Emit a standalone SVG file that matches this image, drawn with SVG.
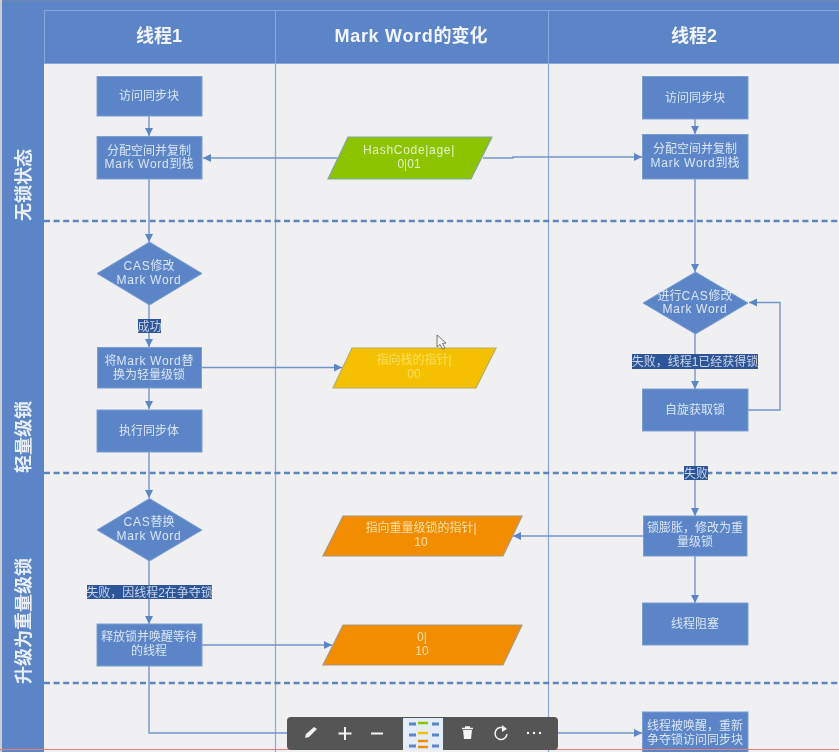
<svg xmlns="http://www.w3.org/2000/svg" width="839" height="752" viewBox="0 0 839 752">
<style>
text{font-family:"Liberation Sans","Noto Sans CJK SC",sans-serif;text-anchor:middle}
.h{font-size:18px;font-weight:700;fill:#f2f5fb}
.v{font-size:18px;font-weight:700;fill:#e8eef8}
.n{font-size:12px;fill:#dbe5f4}
.m{letter-spacing:.7px}
.b{fill:#5b85c8;stroke:#7a9dd3;stroke-width:1}
.l{font-size:12px;fill:#c9d5ea}
.lb{fill:#2f5597}
.c{fill:none;stroke:#7395ca;stroke-width:1.4}
.d{fill:none;stroke:#5b85c0;stroke-width:2.5;stroke-dasharray:6 3.6}
.s{fill:none;stroke:#8fabd6;stroke-width:1.3}
.t{stroke:#f4f4f4;stroke-width:2;fill:none}
</style>
<defs>
<marker id="a" markerUnits="userSpaceOnUse" markerWidth="9" markerHeight="9" refX="8" refY="4" orient="auto"><path d="M0 0L8 4L0 8Z" fill="#5b85c8"/></marker>
<filter id="soft" x="0" y="0" width="100%" height="100%"><feGaussianBlur stdDeviation="0.45"/></filter>
</defs>
<g filter="url(#soft)">
<rect width="839" height="752" fill="#f0f0f2"/>
<rect x="0" y="0" width="2" height="752" fill="#c9ccd2"/>
<g id="header">
<rect x="2" y="0" width="837" height="63" fill="#5b85c8"/>
<rect x="2" y="0" width="837" height="1.5" fill="#6b87b5"/>
<path d="M2 10.500H839M44.500 10.500V63M275.500 10.500V63M548.500 10.500V63M44 63.500H839" stroke="#86a6dc" stroke-width="1" fill="none"/>
<text class="h" x="159" y="42">线程1</text>
<text class="h" x="411" y="42"><tspan class="m">Mark Word</tspan>的变化</text>
<text class="h" x="694" y="42">线程2</text>
</g>
<g id="phases">
<rect x="2" y="10" width="42" height="742" fill="#5b85c8"/>
<text class="v" transform="translate(30 185) rotate(-90)">无锁状态</text>
<text class="v" transform="translate(30 437) rotate(-90)">轻量级锁</text>
<text class="v" transform="translate(30 621) rotate(-90)">升级为重量级锁</text>
</g>
<g id="swimlanes">
<path class="s" d="M275.500 63V752M548.500 63V752"/>
<path class="d" d="M44 221H839M44 473H839M44 683H839"/>
</g>
<g id="connectors">
<path class="c" marker-end="url(#a)" d="M149 116V136"/>
<path class="c" marker-end="url(#a)" d="M149 179V242"/>
<path class="c" marker-end="url(#a)" d="M149 305V347"/>
<path class="c" marker-end="url(#a)" d="M149 388V409"/>
<path class="c" marker-end="url(#a)" d="M149 452V498"/>
<path class="c" marker-end="url(#a)" d="M149 561V624"/>
<path class="c" marker-end="url(#a)" d="M149 666V733H642"/>
<path class="c" marker-end="url(#a)" d="M337 158H203"/>
<path class="c" marker-end="url(#a)" d="M483 158H513V157H642"/>
<path class="c" marker-end="url(#a)" d="M202 367.500H342"/>
<path class="c" marker-end="url(#a)" d="M202 645H332"/>
<path class="c" marker-end="url(#a)" d="M695 119V134"/>
<path class="c" marker-end="url(#a)" d="M695 179V272"/>
<path class="c" marker-end="url(#a)" d="M695 334V389"/>
<path class="c" marker-end="url(#a)" d="M748 410H780V302.500H749"/>
<path class="c" marker-end="url(#a)" d="M695 431V516"/>
<path class="c" marker-end="url(#a)" d="M695 556V603"/>
<path class="c" marker-end="url(#a)" d="M643 536H513"/>
</g>
<g id="t1-visit"><rect class="b" x="97" y="76.500" width="105" height="39.500"/><text class="n" x="149" y="100">访问同步块</text></g>
<g id="t1-copy"><rect class="b" x="97" y="136.500" width="105" height="42.500"/><text class="n" x="149" y="155">分配空间并复制</text><text class="n" x="149" y="168"><tspan class="m">Mark Word</tspan>到栈</text></g>
<g id="t1-cas"><path class="b" d="M149.500 242L202 273.500L149.500 305L97 273.500Z"/><text class="n" x="149" y="270"><tspan class="m">CAS</tspan>修改</text><text class="n" x="149" y="284"><tspan class="m">Mark Word</tspan></text></g>
<g id="t1-replace"><rect class="b" x="97.500" y="347.500" width="104" height="40.500"/><text class="n" x="149" y="365">将<tspan class="m">Mark Word</tspan>替</text><text class="n" x="149" y="379">换为轻量级锁</text></g>
<g id="t1-exec"><rect class="b" x="97" y="410" width="105" height="42"/><text class="n" x="149" y="435">执行同步体</text></g>
<g id="t1-cas2"><path class="b" d="M149.500 498.500L202 530L149.500 561L97 530Z"/><text class="n" x="149" y="526"><tspan class="m">CAS</tspan>替换</text><text class="n" x="149" y="540"><tspan class="m">Mark Word</tspan></text></g>
<g id="t1-release"><rect class="b" x="97" y="624" width="105" height="42"/><text class="n" x="149" y="641">释放锁并唤醒等待</text><text class="n" x="149" y="655">的线程</text></g>
<g id="t2-visit"><rect class="b" x="642.500" y="76.500" width="105.500" height="42.500"/><text class="n" x="695" y="102">访问同步块</text></g>
<g id="t2-copy"><rect class="b" x="642.500" y="134.500" width="105.500" height="44.500"/><text class="n" x="695" y="153">分配空间并复制</text><text class="n" x="695" y="167"><tspan class="m">Mark Word</tspan>到栈</text></g>
<g id="t2-cas"><path class="b" d="M695.500 272L748 303L695.500 334L643 303Z"/><text class="n" x="695" y="300">进行<tspan class="m">CAS</tspan>修改</text><text class="n" x="695" y="313"><tspan class="m">Mark Word</tspan></text></g>
<g id="t2-spin"><rect class="b" x="642.500" y="389" width="105.500" height="42"/><text class="n" x="695" y="414">自旋获取锁</text></g>
<g id="t2-inflate"><rect class="b" x="643.500" y="516" width="103.500" height="40"/><text class="n" x="695" y="532">锁膨胀，修改为重</text><text class="n" x="695" y="546">量级锁</text></g>
<g id="t2-block"><rect class="b" x="642.500" y="603" width="105.500" height="42"/><text class="n" x="695" y="628">线程阻塞</text></g>
<g id="t2-wake"><rect class="b" x="642.500" y="712" width="105.500" height="42"/><text class="n" x="695" y="730">线程被唤醒，重新</text><text class="n" x="695" y="744">争夺锁访问同步块</text></g>
<g id="mw-hash"><path d="M348 137H492L471 179H328Z" fill="#8cc400" stroke="#7fa8a0" stroke-width="1.2"/><text class="m" x="409" y="154" font-size="12" fill="#e4f1c8">HashCode|age|</text><text x="409" y="168" font-size="12" fill="#e4f1c8">0|01</text></g>
<g id="mw-stack"><path d="M352 348H496L476 388H333Z" fill="#f5c000" stroke="#b5b060" stroke-width="1.2"/><text x="414" y="364" font-size="12" fill="#f8e060">指向栈的指针|</text><text x="414" y="378" font-size="12" fill="#f8e060">00</text></g>
<g id="mw-heavy"><path d="M343 516H522L503 556H323Z" fill="#f28c00" stroke="#a89a80" stroke-width="1.2"/><text x="421" y="532" font-size="12" fill="#fde0a8">指向重量级锁的指针|</text><text x="421" y="546" font-size="12" fill="#fde0a8">10</text></g>
<g id="mw-release"><path d="M343 625H522L503 665H323Z" fill="#f28c00" stroke="#a89a80" stroke-width="1.2"/><text x="422" y="641" font-size="12" fill="#fde0a8">0|</text><text x="422" y="655" font-size="12" fill="#fde0a8">10</text></g>
<g id="label-ok"><rect class="lb" x="138" y="319" width="23" height="14"/><text class="l" x="149.500" y="330.500">成功</text></g>
<g id="label-fail1"><rect class="lb" x="632" y="354" width="126" height="15"/><text class="l" x="695" y="366">失败，线程1已经获得锁</text></g>
<g id="label-fail2"><rect class="lb" x="684" y="466" width="24" height="14"/><text class="l" x="696" y="477.500">失败</text></g>
<g id="label-fail3"><rect class="lb" x="87" y="585" width="125" height="14"/><text class="l" x="149.500" y="596.500">失败，因线程2在争夺锁</text></g>
<path id="cursor" d="M437 335V347L440 344.500L442.500 349L445 348L442.500 343.500L446 343Z" fill="#f4f4f4" stroke="#555" stroke-width="0.8"/>
<path d="M0 749.500H839" stroke="#e0807a" stroke-width="1" fill="none"/>
<g id="toolbar">
<rect x="287" y="717" width="271" height="33" rx="4" fill="#555557"/>
<path d="M305 738L306 734L314 727L317 729L309 737Z" fill="#f2f2f2"/>
<path class="t" d="M338.500 733.500H351.500M345 727V740M371 733.500H383"/>
<rect x="403" y="718" width="40" height="32" fill="#e4ecf8"/>
<path d="M409 724H416M409 735H416M409 746H416M432 724H439M432 735H439M432 746H439" stroke="#5b85c8" stroke-width="3" fill="none"/>
<path d="M418 723H428" stroke="#8cc400" stroke-width="2.500" fill="none"/>
<path d="M418 733H428" stroke="#f5c000" stroke-width="2.500" fill="none"/>
<path d="M418 741H428M418 747H428" stroke="#f28c00" stroke-width="2.500" fill="none"/>
<path d="M462 728.500H473M465 727H470" stroke="#f4f4f4" stroke-width="1.500" fill="none"/>
<path d="M463 730H472L471 739H464Z" fill="#f4f4f4"/>
<path d="M505 729A6 6 0 1 0 507 734" stroke="#f4f4f4" stroke-width="1.500" fill="none"/>
<path d="M502 725L507 729L502 732Z" fill="#f4f4f4"/>
<circle cx="528" cy="733" r="1.200" fill="#f4f4f4"/><circle cx="534" cy="733" r="1.200" fill="#f4f4f4"/><circle cx="540" cy="733" r="1.200" fill="#f4f4f4"/>
</g>
</g>
</svg>
